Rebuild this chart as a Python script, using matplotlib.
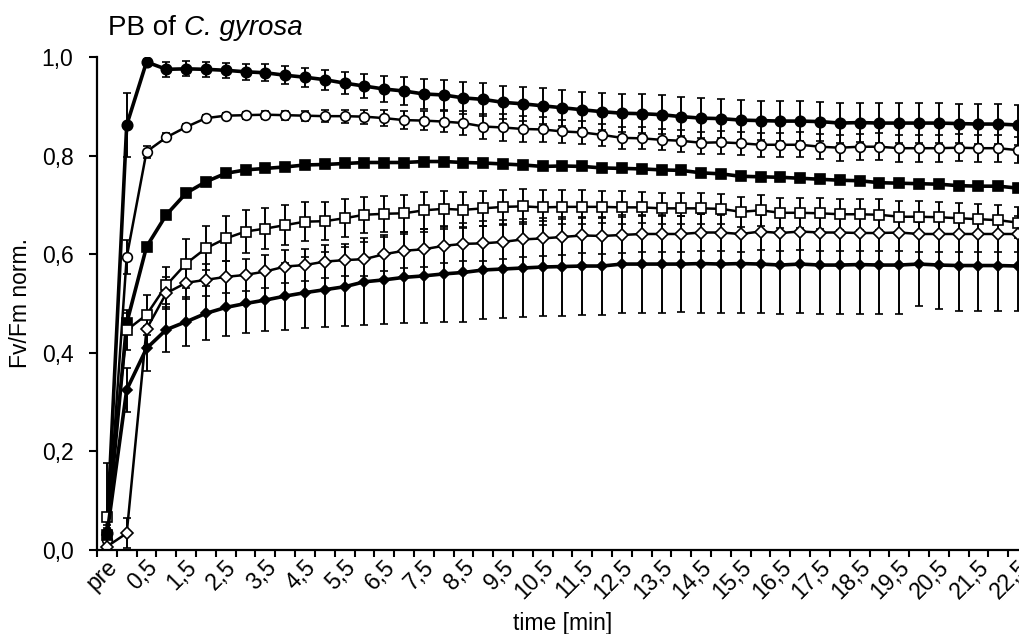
import matplotlib
matplotlib.use('Agg')
import matplotlib.pyplot as plt
from matplotlib.transforms import ScaledTranslation
import numpy as np

plt.rcParams['font.family'] = ['Liberation Sans', 'DejaVu Sans']

# Zeitpunkte (Kategorien)
categories = ['pre', '0', '0,5', '1', '1,5', '2', '2,5', '3', '3,5', '4', '4,5',
              '5', '5,5', '6', '6,5', '7', '7,5', '8', '8,5', '9', '9,5', '10',
              '10,5', '11', '11,5', '12', '12,5', '13', '13,5', '14', '14,5',
              '15', '15,5', '16', '16,5', '17', '17,5', '18', '18,5', '19',
              '19,5', '20', '20,5', '21', '21,5', '22', '22,5']
y_ticks = [0.0, 0.2, 0.4, 0.6, 0.8, 1.0]
y_tick_labels = ['0,0', '0,2', '0,4', '0,6', '0,8', '1,0']

# filled circles (top)
s1 = [0.035, 0.862, 0.990, 0.975, 0.976, 0.975, 0.973, 0.970, 0.968, 0.963, 0.959, 0.954, 0.947,
      0.941, 0.935, 0.931, 0.925, 0.923, 0.917, 0.914, 0.908, 0.905, 0.901, 0.897, 0.893, 0.889,
      0.886, 0.885, 0.883,
      0.879, 0.876, 0.875, 0.872, 0.871, 0.870, 0.870, 0.869, 0.866, 0.867, 0.866, 0.866, 0.866,
      0.866, 0.865, 0.864, 0.864, 0.862]
e1 = [0.010, 0.065, 0.005, 0.015, 0.015, 0.015, 0.015, 0.016, 0.017, 0.018, 0.019, 0.020, 0.022,
      0.024, 0.026, 0.028, 0.030, 0.031, 0.032, 0.033, 0.034, 0.035, 0.036, 0.037, 0.037, 0.038,
      0.038, 0.039, 0.039,
      0.039, 0.040, 0.040, 0.040, 0.040, 0.040, 0.040, 0.040, 0.040, 0.040, 0.040, 0.040, 0.040,
      0.040, 0.040, 0.040, 0.040, 0.040]

# open circles
s2 = [0.020, 0.594, 0.808, 0.837, 0.858, 0.876, 0.881, 0.882, 0.883, 0.882, 0.881, 0.880, 0.880,
      0.879, 0.876, 0.872, 0.871, 0.869, 0.866, 0.859, 0.857, 0.854, 0.853, 0.849, 0.847, 0.842,
      0.836, 0.835, 0.832,
      0.830, 0.826, 0.827, 0.825, 0.822, 0.822, 0.822, 0.818, 0.816, 0.818, 0.818, 0.815, 0.815,
      0.815, 0.816, 0.815, 0.815, 0.811]
e2 = [0.010, 0.035, 0.012, 0.008, 0.006, 0.006, 0.006, 0.007, 0.008, 0.009, 0.010, 0.012, 0.013,
      0.014, 0.016, 0.018, 0.020, 0.022, 0.024, 0.026, 0.027, 0.026, 0.025, 0.024, 0.024, 0.023,
      0.022, 0.022, 0.021,
      0.022, 0.022, 0.023, 0.023, 0.024, 0.024, 0.025, 0.025, 0.026, 0.026, 0.027, 0.027, 0.027,
      0.027, 0.027, 0.027, 0.027, 0.027]

# filled squares
s3 = [0.030, 0.460, 0.615, 0.680, 0.724, 0.747, 0.764, 0.771, 0.774, 0.777, 0.781, 0.782, 0.784,
      0.786, 0.786, 0.786, 0.788, 0.788, 0.786, 0.785, 0.783, 0.781, 0.778, 0.779, 0.778, 0.775,
      0.774, 0.773, 0.771,
      0.770, 0.765, 0.763, 0.758, 0.757, 0.756, 0.754, 0.752, 0.750, 0.749, 0.745, 0.744, 0.743,
      0.742, 0.739, 0.738, 0.738, 0.734]
e3 = [0.010, 0.020] + [0.005] * 45

# open squares
s4 = [0.067, 0.446, 0.477, 0.537, 0.581, 0.612, 0.632, 0.646, 0.652, 0.659, 0.666, 0.667, 0.673,
      0.680, 0.682, 0.683, 0.689, 0.692, 0.690, 0.693, 0.696, 0.697, 0.695, 0.696, 0.696, 0.696,
      0.695, 0.695, 0.693,
      0.693, 0.693, 0.692, 0.686, 0.689, 0.684, 0.684, 0.683, 0.681, 0.681, 0.680, 0.676, 0.676,
      0.675, 0.673, 0.671, 0.669, 0.664]
e4 = [0.110, 0.040, 0.040, 0.038, 0.050, 0.045, 0.045, 0.043, 0.042, 0.041, 0.040, 0.039, 0.038,
      0.037, 0.037, 0.037, 0.037, 0.036, 0.036, 0.036, 0.035, 0.035, 0.035, 0.034, 0.034, 0.033,
      0.033, 0.032, 0.032,
      0.031, 0.031, 0.031, 0.031, 0.031, 0.031, 0.031, 0.031, 0.031, 0.031, 0.031, 0.031, 0.031,
      0.031, 0.031, 0.031, 0.031, 0.031]

# open diamonds
s5 = [0.007, 0.034, 0.448, 0.521, 0.542, 0.548, 0.554, 0.558, 0.565, 0.575, 0.578, 0.585, 0.588,
      0.590, 0.600, 0.607, 0.610, 0.617, 0.621, 0.622, 0.625, 0.630, 0.632, 0.635, 0.638, 0.637,
      0.639, 0.641, 0.641,
      0.641, 0.644, 0.644, 0.641, 0.646, 0.643, 0.646, 0.644, 0.644, 0.643, 0.643, 0.644, 0.641,
      0.641, 0.641, 0.641, 0.641, 0.641]
e5 = [0.005, 0.030, 0.035, 0.033, 0.033, 0.033, 0.033, 0.033, 0.033, 0.033, 0.033, 0.033, 0.033,
      0.034, 0.034, 0.034, 0.035, 0.035, 0.035, 0.035, 0.035, 0.036, 0.036, 0.036, 0.036, 0.036,
      0.037, 0.037, 0.037,
      0.037, 0.037, 0.037, 0.037, 0.037, 0.037, 0.037, 0.037, 0.037, 0.037, 0.037, 0.037, 0.037,
      0.037, 0.037, 0.037, 0.037, 0.037]

# small filled (bottom)
s6 = [0.030, 0.325, 0.409, 0.447, 0.463, 0.480, 0.492, 0.500, 0.507, 0.515, 0.522, 0.528, 0.534,
      0.544, 0.548, 0.553, 0.556, 0.560, 0.563, 0.568, 0.570, 0.572, 0.574, 0.575, 0.576, 0.576,
      0.580, 0.580, 0.580,
      0.580, 0.581, 0.580, 0.581, 0.580, 0.578, 0.580, 0.578, 0.578, 0.579, 0.578, 0.578, 0.580,
      0.578, 0.577, 0.577, 0.577, 0.576]
e6 = [0.020, 0.045, 0.045, 0.045, 0.050, 0.055, 0.057, 0.060, 0.063, 0.068, 0.072, 0.076, 0.080,
      0.088, 0.090, 0.092, 0.095, 0.097, 0.100, 0.100, 0.100, 0.100, 0.100, 0.100, 0.100, 0.100,
      0.100, 0.100, 0.100,
      0.098, 0.100, 0.100, 0.100, 0.100, 0.100, 0.100, 0.100, 0.100, 0.100, 0.100, 0.100, 0.085,
      0.090, 0.092, 0.092, 0.092, 0.092]

fig = plt.figure(figsize=(10.2, 6.34), dpi=100)
ax = fig.add_axes([97 / 1020, 84 / 634, 931 / 1020, 493 / 634])

x = np.arange(len(categories))
styles = [
    (s1, e1, 'o', 'black', 7.5, 2.6),
    (s2, e2, 'o', 'white', 7.0, 1.8),
    (s3, e3, 's', 'black', 7.0, 2.6),
    (s4, e4, 's', 'white', 7.5, 1.8),
    (s5, e5, 'D', 'white', 6.0, 1.8),
    (s6, e6, 'D', 'black', 5.0, 2.6),
]
for y, err, marker, mfc, ms, lw in styles:
    ax.errorbar(x, y, yerr=err, fmt='-', marker=marker, color='black', mfc=mfc,
                mec='black', mew=1.2, ms=ms, lw=lw, ecolor='black',
                elinewidth=1.4, capsize=3.2, capthick=1.4)

ax.set_xlim(-0.5, len(categories) - 0.5)
ax.set_ylim(0, 1.0)
for side in ['top', 'right']:
    ax.spines[side].set_visible(False)
for side in ['left', 'bottom']:
    ax.spines[side].set_linewidth(1.6)

ax.set_xticks(x[::2])
ax.set_xticklabels(categories[::2])
ax.set_xticks(np.arange(-0.5, len(categories), 1), minor=True)
ax.tick_params(axis='x', which='major', length=0, pad=4, labelsize=16.5)
ax.tick_params(axis='x', which='minor', length=5, width=1.5, direction='out')
offset = ScaledTranslation(-1 / 100, 0, fig.dpi_scale_trans)
for lab in ax.get_xticklabels():
    lab.set_rotation(45)
    lab.set_ha('right')
    lab.set_rotation_mode('anchor')
    lab.set_transform(lab.get_transform() + offset)

ax.set_yticks(y_ticks)
ax.set_yticklabels(y_tick_labels)
ax.tick_params(axis='y', length=6, width=1.5, pad=11, labelsize=16.5)

ax.set_ylabel('Fv/Fm norm.', fontsize=16.5)
ax.yaxis.set_label_coords(-0.07, 0.5)
ax.set_xlabel('time [min]', fontsize=16.5)
ax.xaxis.set_label_coords(0.5, -0.125)

# Titel: "PB of" normal, Artname kursiv
t1 = fig.text(108 / 1020, 1 - 35 / 634, 'PB of', fontsize=20, ha='left', va='baseline')
fig.canvas.draw()
ax.annotate('C. gyrosa', xy=(1, 0), xycoords=t1, xytext=(5.5, 0),
            textcoords='offset points', fontsize=20, fontstyle='italic',
            ha='left', va='bottom', annotation_clip=False)

fig.savefig('out.png', dpi=100)
